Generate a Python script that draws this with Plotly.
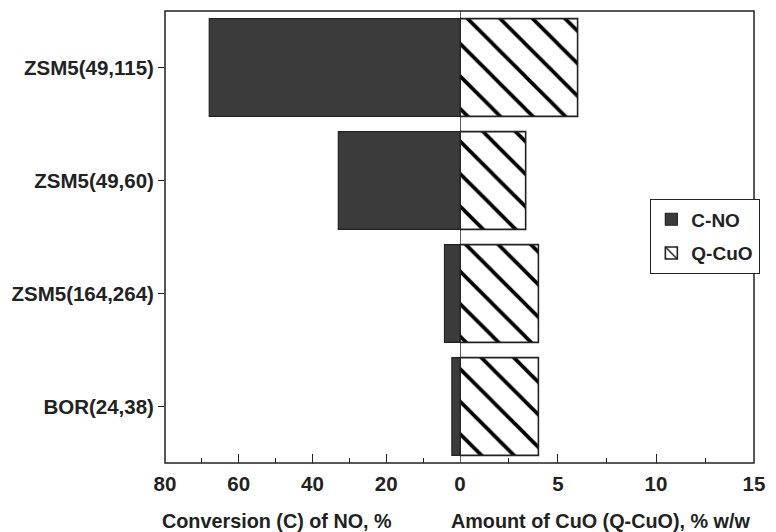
import plotly.graph_objects as go

# Catalysts (top to bottom)
catalysts = ["ZSM5(49,115)", "ZSM5(49,60)", "ZSM5(164,264)", "BOR(24,38)"]
# Conversion of NO, %  (plotted leftwards)
conversion_no = [68, 33, 4.2, 2.2]
# Amount of CuO, % w/w  (plotted rightwards)
cuo_amount = [6.0, 3.35, 4.0, 4.0]

left_ticks = [80, 60, 40, 20]
right_ticks = [0, 5, 10, 15]

INK = "#222222"
FONT = dict(family="Liberation Sans, Arial, sans-serif", size=20.5, color=INK, weight="bold")
TITLE_FONT = dict(FONT, size=19.8)
SPLIT = 300.5 / 600  # share of the width taken by the conversion half

fig = go.Figure()

fig.add_trace(go.Bar(
    y=catalysts, x=conversion_no, orientation="h",
    xaxis="x", yaxis="y", name="C-NO", width=0.865,
    marker=dict(color="#3b3b3b", line=dict(color=INK, width=1.2)),
    legendgroup="a",
))
fig.add_trace(go.Bar(
    y=catalysts, x=cuo_amount, orientation="h",
    xaxis="x2", yaxis="y", name="Q-CuO", width=0.865,
    marker=dict(color="white", line=dict(color=INK, width=1.6),
                pattern=dict(shape="\\", size=23, solidity=0.16,
                             fgcolor="#000000", fgopacity=1, bgcolor="white")),
    legendgroup="b",
))

axis_common = dict(
    showgrid=False, zeroline=False, showline=False,
    ticks="inside", ticklen=9, tickwidth=1.4, tickcolor=INK,
    tickfont=FONT, ticklabelstandoff=6, anchor="y",
)

fig.update_layout(
    width=776, height=532,
    margin=dict(l=162, r=14, t=11, b=69),
    paper_bgcolor="white", plot_bgcolor="white",
    showlegend=True,
    legend=dict(
        x=(656 - 162) / 600, y=(463 - 199) / 452,
        xanchor="left", yanchor="top",
        bordercolor=INK, borderwidth=1.4, bgcolor="white",
        font=dict(FONT, size=19), traceorder="grouped", tracegroupgap=6,
        itemwidth=30,
    ),
    xaxis=dict(
        domain=[0, SPLIT], range=[80, 0],
        tickmode="array", tickvals=left_ticks,
        minor=dict(dtick=10, ticks="inside", ticklen=5, tickwidth=1.2, tickcolor=INK),
        **axis_common,
    ),
    xaxis2=dict(
        domain=[SPLIT, 1], range=[0, 15],
        tickmode="array", tickvals=right_ticks,
        minor=dict(dtick=2.5, ticks="inside", ticklen=5, tickwidth=1.2, tickcolor=INK),
        **axis_common,
    ),
    yaxis=dict(
        categoryorder="array", categoryarray=catalysts,
        autorange=False, range=[3.5, -0.5],
        showgrid=False, zeroline=False, showline=False,
        ticks="outside", ticklen=6, tickwidth=1.4, tickcolor=INK,
        tickfont=FONT, anchor="x",
    ),
    bargap=0.135,
)

# Plot frame and the shared zero line
fig.add_shape(type="rect", xref="paper", yref="paper", x0=0, x1=1, y0=0, y1=1,
              line=dict(color=INK, width=1.5), layer="above")
fig.add_shape(type="line", xref="x2", yref="paper", x0=0, x1=0, y0=0, y1=1,
              line=dict(color=INK, width=1.5), layer="above")

# Axis titles under each half
fig.add_annotation(text="Conversion (C) of NO, %", xref="paper", yref="paper",
                   x=(276 - 162) / 600, y=(463 - 521) / 452,
                   xanchor="center", yanchor="middle", showarrow=False, font=TITLE_FONT)
fig.add_annotation(text="Amount of CuO (Q-CuO), % w/w", xref="paper", yref="paper",
                   x=(606 - 162) / 600, y=(463 - 521) / 452,
                   xanchor="center", yanchor="middle", showarrow=False, font=TITLE_FONT)

fig.write_html("out.html")
